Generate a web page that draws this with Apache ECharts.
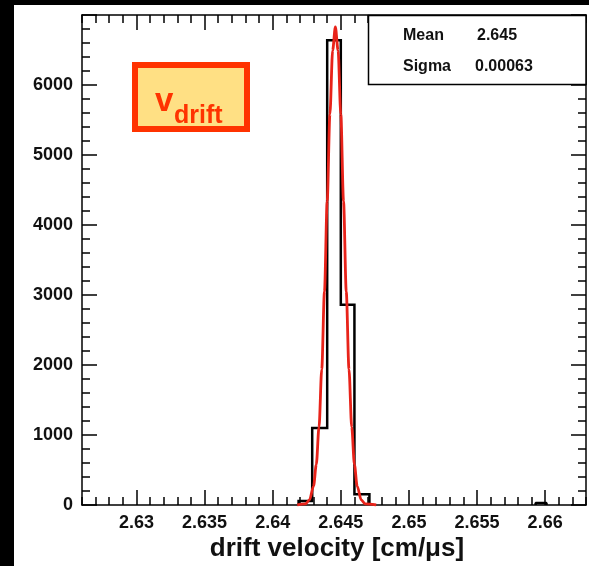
<!DOCTYPE html>
<html><head><meta charset="utf-8">
<script src="https://cdn.jsdelivr.net/npm/echarts@6/dist/echarts.min.js"></script>
<style>html,body{margin:0;padding:0;background:#000;}#c{width:589px;height:566px;}</style>
</head><body><div id="c"></div>
<script>
// ---- data ----
const binEdges = [2.6419, 2.6429, 2.6440, 2.6450, 2.6460, 2.6471];
const binCounts = [57, 1100, 6640, 2860, 153];
const strayBinEdges = [2.6593, 2.6601];
const strayBinCounts = [30];
const fitX = [2.6418, 2.6424, 2.6427, 2.6430, 2.6432, 2.6434, 2.6436, 2.6438, 2.6440, 2.6442, 2.6444, 2.6446,
              2.6448, 2.6450, 2.6452, 2.6454, 2.6456, 2.6458, 2.6460, 2.6462, 2.6465, 2.6468, 2.6476];
const fitY = [0, 15, 72, 271, 578, 1113, 1938, 3050, 4340, 5582, 6494, 6830,
              6494, 5582, 4340, 3050, 1938, 1113, 578, 271, 72, 15, 0];
const xMajorTicks = [2.63, 2.635, 2.64, 2.645, 2.65, 2.655, 2.66];
const xTickLabels = ['2.63', '2.635', '2.64', '2.645', '2.65', '2.655', '2.66'];
const yTickLabels = ['0', '1000', '2000', '3000', '4000', '5000', '6000'];
const statNames = ['Mean', 'Sigma'];
const statValues = ['2.645', '0.00063'];
const xTitle = 'drift velocity [cm/\u03bcs]';
const boxLabelMain = 'v';
const boxLabelSub = 'drift';

// ---- build ----
const FONT = '"Liberation Sans", Arial, Helvetica, sans-serif';
const xMin = 2.626, xMax = 2.663;
const xMinorTicks = [];
for (let i = 2626; i <= 2663; i++) { if (i % 5 !== 0) xMinorTicks.push(i / 1000); }

function outline(edges, counts) {
  const pts = [[edges[0], 0]];
  for (let i = 0; i < counts.length; i++) {
    pts.push([edges[i], counts[i]]);
    pts.push([edges[i + 1], counts[i]]);
  }
  pts.push([edges[edges.length - 1], 0]);
  return pts;
}
const histPts = outline(binEdges, binCounts);
const strayPts = outline(strayBinEdges, strayBinCounts);
const fitPts = fitX.map((x, i) => [x, fitY[i]]);

function labelFor(v) {
  let best = 0;
  for (let i = 0; i < xMajorTicks.length; i++) {
    if (Math.abs(xMajorTicks[i] - v) < Math.abs(xMajorTicks[best] - v)) best = i;
  }
  return xTickLabels[best];
}

const lineSt = { color: '#000', width: 1.5 };
function xAx(pos, vals, len, showLine, showLabel) {
  return {
    type: 'value', position: pos, min: xMin, max: xMax,
    axisLine: { show: showLine, onZero: false, lineStyle: lineSt },
    axisTick: { show: true, inside: true, length: len, customValues: vals, lineStyle: lineSt },
    axisLabel: showLabel ? {
      show: true, customValues: vals, margin: 9, color: '#111',
      fontFamily: FONT, fontWeight: 'bold', fontSize: 18,
      formatter: labelFor
    } : { show: false },
    splitLine: { show: false }, minorTick: { show: false }
  };
}
function yAx(pos, showLabel) {
  return {
    type: 'value', position: pos, min: 0, max: 7000, interval: 1000,
    axisLine: { show: true, onZero: false, lineStyle: lineSt },
    axisTick: { show: true, inside: true, length: 15, lineStyle: lineSt },
    minorTick: { show: true, splitNumber: 5, length: 8, lineStyle: lineSt },
    axisLabel: showLabel ? {
      show: true, margin: 9, color: '#111', showMaxLabel: false,
      fontFamily: FONT, fontWeight: 'bold', fontSize: 18,
      formatter: v => yTickLabels[Math.round(v / 1000)] || ''
    } : { show: false },
    splitLine: { show: false }
  };
}

const chart = echarts.init(document.getElementById('c'), null, { renderer: 'canvas' });
chart.setOption({
  backgroundColor: '#fff',
  animation: false,
  grid: { left: 82, right: 3, top: 15, bottom: 61, containLabel: false },
  xAxis: [
    xAx('bottom', xMajorTicks, 15, true, true),
    xAx('bottom', xMinorTicks, 8, false, false),
    xAx('top', xMajorTicks, 15, true, false),
    xAx('top', xMinorTicks, 8, false, false)
  ],
  yAxis: [yAx('left', true), yAx('right', false)],
  series: [
    { type: 'line', xAxisIndex: 0, yAxisIndex: 0, data: histPts, symbol: 'none', z: 3,
      lineStyle: { color: '#000', width: 2.5, join: 'miter' } },
    { type: 'line', xAxisIndex: 0, yAxisIndex: 0, data: strayPts, symbol: 'none', z: 3,
      lineStyle: { color: '#000', width: 2.5 } },
    { type: 'line', xAxisIndex: 0, yAxisIndex: 0, data: fitPts, symbol: 'none', z: 4,
      smooth: 0.3, smoothMonotone: 'x', lineStyle: { color: '#e8231a', width: 2.8 } }
  ],
  graphic: [
    { type: 'rect', z: 200, shape: { x: 0, y: 0, width: 14, height: 566 }, style: { fill: '#000' } },
    { type: 'rect', z: 200, shape: { x: 0, y: 0, width: 589, height: 5 }, style: { fill: '#000' } },
    // stats box
    { type: 'rect', z: 100, shape: { x: 368.5, y: 15.5, width: 217.5, height: 69 },
      style: { fill: '#fff', stroke: '#000', lineWidth: 1.5 } },
    { type: 'text', z: 101, style: { x: 403, y: 36, text: statNames[0], font: 'bold 16px ' + FONT, fill: '#111', textVerticalAlign: 'middle' } },
    { type: 'text', z: 101, style: { x: 477, y: 36, text: statValues[0], font: 'bold 16px ' + FONT, fill: '#111', textVerticalAlign: 'middle' } },
    { type: 'text', z: 101, style: { x: 403, y: 67, text: statNames[1], font: 'bold 16px ' + FONT, fill: '#111', textVerticalAlign: 'middle' } },
    { type: 'text', z: 101, style: { x: 475, y: 67, text: statValues[1], font: 'bold 16px ' + FONT, fill: '#111', textVerticalAlign: 'middle' } },
    // v_drift box
    { type: 'rect', z: 100, shape: { x: 135, y: 65, width: 112, height: 64 },
      style: { fill: '#ffe084', stroke: '#ff3300', lineWidth: 6 } },
    { type: 'text', z: 101, style: { x: 155, y: 102, text: boxLabelMain, font: 'bold 33px ' + FONT, fill: '#ff3300', textVerticalAlign: 'middle' } },
    { type: 'text', z: 101, style: { x: 174, y: 116, text: boxLabelSub, font: 'bold 25px ' + FONT, fill: '#ff3300', textVerticalAlign: 'middle' } },
    // x title
    { type: 'text', z: 101, style: { x: 337, y: 549, text: xTitle, font: 'bold 26px ' + FONT, fill: '#111', textAlign: 'center', textVerticalAlign: 'middle' } }
  ]
});
</script></body></html>
